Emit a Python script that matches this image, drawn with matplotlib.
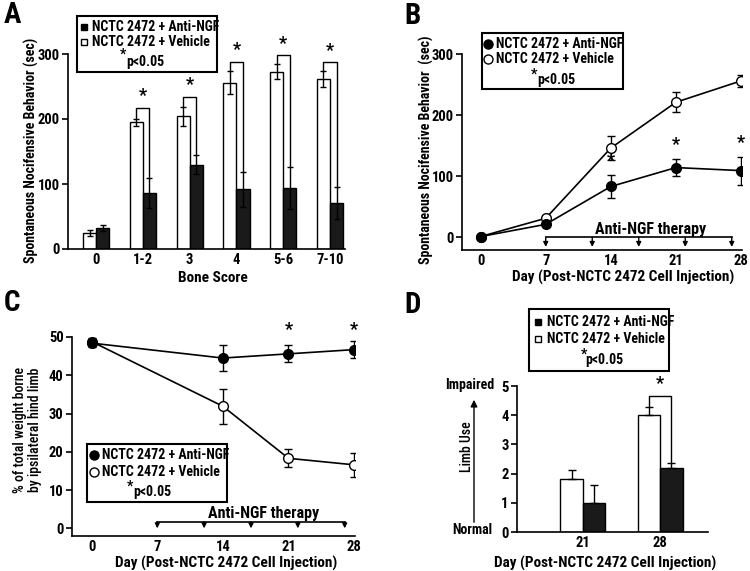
import numpy as np
import matplotlib.pyplot as plt
from matplotlib.patches import Rectangle, FancyArrowPatch
from matplotlib.lines import Line2D

plt.rcParams['font.family'] = ['Roboto Condensed', 'Liberation Sans Narrow',
                               'Liberation Sans', 'DejaVu Sans']
plt.rcParams['font.weight'] = 'bold'
plt.rcParams['axes.linewidth'] = 1.2

W, H = 750, 571
FS = 10

# panel A: behaviour by bone score
a_cats = ['0', '1-2', '3', '4', '5-6', '7-10']
a_veh = [25, 195, 204, 256, 273, 262]
a_veh_err = [5, 5, 14, 18, 12, 12]
a_ngf = [32, 86, 130, 92, 94, 71]
a_ngf_err = [5, 23, 15, 27, 32, 25]
a_bracket = [None, 217, 234, 288, 298, 287]

# panel B: behaviour over time
b_days = [0, 7, 14, 21, 28]
b_ngf = [1, 21, 83, 114, 109]
b_ngf_err = [2, 3, 19, 14, 23]
b_veh = [1, 31, 146, 221, 256]
b_veh_err = [2, 5, 20, 16, 10]
b_sig_days = [14, 21, 28]

# panel C: weight bearing
c_days = [0, 14, 21, 28]
c_ngf = [48.4, 44.5, 45.6, 46.7]
c_ngf_err = [1.0, 3.3, 2.2, 2.3]
c_veh = [48.8, 31.9, 18.3, 16.6]
c_veh_err = [1.0, 4.6, 2.4, 3.2]
c_sig_days = [21, 28]

# therapy injections
inj_days = [7, 12, 17, 22, 27]

# panel D: limb use
d_cats = ['21', '28']
d_veh = [1.8, 4.0]
d_veh_err = [0.34, 0.28]
d_ngf = [1.0, 2.2]
d_ngf_err = [0.6, 0.18]

fig = plt.figure(figsize=(7.5, 5.71), dpi=100)


def add_ax(l, t, r, b):
    ax = fig.add_axes([l / W, 1 - b / H, (r - l) / W, (b - t) / H])
    ax.spines['top'].set_visible(False)
    ax.spines['right'].set_visible(False)
    ax.tick_params(direction='out', length=4, width=1.2, labelsize=FS + 0.5)
    ax.tick_params(axis='y', pad=2)
    ax.tick_params(axis='x', length=0, pad=3)
    return ax


def ftext(x, y, s, **kw):
    kw.setdefault('ha', 'center')
    kw.setdefault('va', 'center')
    kw.setdefault('fontweight', 'bold')
    kw.setdefault('fontsize', FS)
    fig.text(x / W, 1 - y / H, s, **kw)


def key_box(l, t, r, b, kind, mx, tx, y1, y2, sx, sy, px, py):
    fig.patches.append(Rectangle((l / W, 1 - b / H), (r - l) / W, (b - t) / H,
                                 transform=fig.transFigure, fill=False,
                                 edgecolor='black', linewidth=1.5))
    m = 's' if kind == 'bar' else 'o'
    ms = 5 if kind == 'bar' else 6.5
    for y, fc in [(y1, 'black'), (y2, 'white')]:
        fig.lines.append(Line2D([mx / W], [1 - y / H], marker=m, ms=ms,
                                mfc=fc, mec='black', mew=1,
                                transform=fig.transFigure))
    ftext(tx, y1, 'NCTC 2472 + Anti-NGF', ha='left')
    ftext(tx, y2, 'NCTC 2472 + Vehicle', ha='left')
    ftext(sx, sy, '*')
    ftext(px, py, 'p<0.05', ha='left')


def therapy(ax, base, tip, label_y):
    ax.plot([inj_days[0], inj_days[-1]], [base, base], color='black', lw=1.2,
            clip_on=False)
    for d in inj_days:
        ax.annotate('', xy=(d, tip), xytext=(d, base),
                    arrowprops=dict(arrowstyle='-|>', color='black', lw=1,
                                    mutation_scale=7, shrinkA=0, shrinkB=0),
                    annotation_clip=False)
    ax.text(18.3, label_y, 'Anti-NGF therapy', ha='center', va='center',
            fontsize=FS + 1.5, fontweight='bold')


# ---------------- A ----------------
ax = add_ax(68, 54, 345, 249)
x = np.arange(len(a_cats))
w = 0.28
ax.bar(x - w / 2, a_veh, w, color='white', edgecolor='black', lw=1)
ax.bar(x + w / 2, a_ngf, w, color='#1a1a1a', edgecolor='black', lw=1)
ax.errorbar(x - w / 2, a_veh, a_veh_err, fmt='none', ecolor='black',
            elinewidth=1, capsize=2.5)
ax.errorbar(x + w / 2, a_ngf, a_ngf_err, fmt='none', ecolor='black',
            elinewidth=1, capsize=2.5)
for i, h in enumerate(a_bracket):
    if h is None:
        continue
    lx, rx = i - w / 2, i + w / 2
    ax.plot([lx, lx, rx, rx],
            [a_veh[i] + a_veh_err[i], h, h, a_ngf[i] + a_ngf_err[i]],
            color='black', lw=1, clip_on=False)
    ax.text(i, h + 4, '*', ha='center', va='bottom', fontsize=13,
            fontweight='bold')
ax.set_xlim(-0.6, 5.32)
ax.set_ylim(0, 300)
ax.set_yticks([0, 100, 200, 300])
ax.set_xticks(x)
ax.set_xticklabels(a_cats)
ftext(213, 278, 'Bone Score', fontsize=FS + 1)
ftext(31, 150, 'Spontaneous Nocifensive Behavior (sec)', rotation=90)
ftext(12, 15, 'A', fontsize=21)
key_box(77, 16, 217, 72, 'bar', 84, 92, 27, 42, 123, 55, 126, 62)

# ---------------- B ----------------
ax = add_ax(462, 54, 742, 250)
ax.errorbar(b_days, b_veh, b_veh_err, color='black', lw=1.2, marker='o',
            ms=7, mfc='white', mec='black', mew=1, capsize=3, elinewidth=1,
            zorder=3)
ax.errorbar(b_days, b_ngf, b_ngf_err, color='black', lw=1.2, marker='o',
            ms=7, mfc='black', mec='black', capsize=3, elinewidth=1, zorder=4)
for d in b_sig_days:
    i = b_days.index(d)
    ax.text(d, b_ngf[i] + b_ngf_err[i] + 8, '*', ha='center', va='bottom',
            fontsize=13, fontweight='bold')
therapy(ax, 0, -16, 13)
ax.set_xlim(-2, 28.1)
ax.set_ylim(-21, 300)
ax.set_yticks([0, 100, 200, 300])
ax.set_xticks(b_days)
ftext(623, 277, 'Day (Post-NCTC 2472 Cell Injection)', fontsize=FS + 1)
ftext(426, 150, 'Spontaneous Nocifensive Behavior  (sec)', rotation=90)
ftext(413, 16, 'B', fontsize=21)
key_box(482, 33, 623, 89, 'line', 488, 496, 44, 59, 534, 75, 537, 80)

# ---------------- C ----------------
ax = add_ax(72, 337, 355, 536)
ax.errorbar(c_days, c_veh, c_veh_err, color='black', lw=1.2, marker='o',
            ms=7, mfc='white', mec='black', mew=1, capsize=3, elinewidth=1,
            zorder=3)
ax.errorbar(c_days, c_ngf, c_ngf_err, color='black', lw=1.2, marker='o',
            ms=7, mfc='black', mec='black', capsize=3, elinewidth=1, zorder=4)
for d in c_sig_days:
    i = c_days.index(d)
    ax.text(d, 49.6, '*', ha='center', va='bottom', fontsize=13,
            fontweight='bold')
therapy(ax, 1.7, 0, 4.0)
ax.set_xlim(-2.1, 28.1)
ax.set_ylim(-2, 50)
ax.set_yticks([0, 10, 20, 30, 40, 50])
ax.set_xticks([0, 7, 14, 21, 28])
ftext(226, 563, 'Day (Post-NCTC 2472 Cell Injection)', fontsize=FS + 1)
ftext(20, 430, '% of total weight borne', rotation=90, fontweight='medium')
ftext(35, 430, 'by ipsilateral hind limb', rotation=90, fontweight='medium')
ftext(12, 303, 'C', fontsize=21)
key_box(87, 444, 227, 502, 'line', 94, 102, 455, 472, 130, 487, 133, 492)

# ---------------- D ----------------
ax = add_ax(517, 386, 708, 532)
xd = np.arange(len(d_cats))
wd = 0.29
ax.bar(xd - wd / 2, d_veh, wd, color='white', edgecolor='black', lw=1)
ax.bar(xd + wd / 2, d_ngf, wd, color='#1a1a1a', edgecolor='black', lw=1)
ax.errorbar(xd - wd / 2, d_veh, [np.zeros(2), d_veh_err], fmt='none',
            ecolor='black', elinewidth=1, capsize=3)
ax.errorbar(xd + wd / 2, d_ngf, [np.zeros(2), d_ngf_err], fmt='none',
            ecolor='black', elinewidth=1, capsize=3)
lx, rx = 1 - wd / 2, 1 + wd / 2
ax.plot([lx, lx, rx, rx], [d_veh[1] + d_veh_err[1] + 0.05, 4.66, 4.66,
                           d_ngf[1] + d_ngf_err[1]], color='black', lw=1,
        clip_on=False)
ax.text(1, 4.75, '*', ha='center', va='bottom', fontsize=13, fontweight='bold')
ax.set_xlim(-0.853, 1.62)
ax.set_ylim(0, 5)
ax.set_yticks([0, 1, 2, 3, 4, 5])
ax.set_xticks(xd)
ax.set_xticklabels(d_cats)
ftext(605, 563, 'Day (Post-NCTC 2472 Cell Injection)', fontsize=FS + 1)
ftext(470, 385, 'Impaired')
ftext(472, 530, 'Normal')
ftext(467, 447, 'Limb Use', rotation=90, fontweight='medium')
fig.patches.append(FancyArrowPatch(
    (474 / W, 1 - 525 / H), (474 / W, 1 - 397 / H), transform=fig.transFigure,
    arrowstyle='-|>', mutation_scale=10, color='black', lw=1))
ftext(413, 305, 'D', fontsize=21)
key_box(529, 309, 669, 371, 'bar', 538, 547, 322, 339, 584, 355, 585, 360)

plt.savefig('out.png', dpi=100)
